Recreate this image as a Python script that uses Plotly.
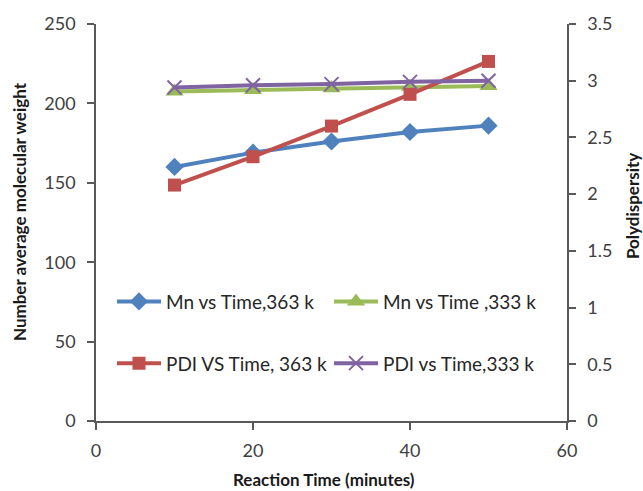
import plotly.graph_objects as go

# ---- data ----
time_min = [10, 20, 30, 40, 50]
mn_363 = [160, 169, 176, 182, 186]
mn_333 = [207.5, 208.5, 209.5, 210.5, 211]
pdi_363 = [2.08, 2.33, 2.60, 2.88, 3.17]
pdi_333 = [2.94, 2.96, 2.97, 2.99, 3.00]

names = ["Mn vs Time,363 k", "Mn vs Time ,333 k", "PDI VS Time, 363 k", "PDI vs Time,333 k"]
x_ticks = [0, 20, 40, 60]
y1_ticks = [0, 50, 100, 150, 200, 250]
y2_ticks = [0, 0.5, 1, 1.5, 2, 2.5, 3, 3.5]
y2_labels = ["0", "0.5", "1", "1.5", "2", "2.5", "3", "3.5"]

BLUE, GREEN, RED, PURPLE = "#4F81BD", "#9BBB59", "#C0504D", "#8064A2"
FONT = "Lato"
AX = "#595959"
TXT = "#404040"

fig = go.Figure()
fig.add_trace(go.Scatter(x=time_min, y=mn_363, name=names[0], mode="lines+markers",
                         line=dict(color=BLUE, width=4),
                         marker=dict(symbol="diamond", size=14, color=BLUE),
                         legend="legend", showlegend=True))
fig.add_trace(go.Scatter(x=time_min, y=mn_333, name=names[1], mode="lines+markers",
                         line=dict(color=GREEN, width=4),
                         marker=dict(symbol="triangle-up", size=16, color=GREEN),
                         legend="legend2", showlegend=True))
fig.add_trace(go.Scatter(x=time_min, y=pdi_363, name=names[2], mode="lines+markers",
                         line=dict(color=RED, width=4),
                         marker=dict(symbol="square", size=13, color=RED),
                         yaxis="y2", legend="legend3", showlegend=True))
fig.add_trace(go.Scatter(x=time_min, y=pdi_333, name=names[3], mode="lines+markers",
                         line=dict(color=PURPLE, width=4),
                         marker=dict(symbol="x-thin", size=14, color=PURPLE,
                                     line=dict(color=PURPLE, width=2)),
                         yaxis="y2", legend="legend4", showlegend=True))

L, R, T, B = 96, 76, 22, 70
W, H = 643, 491
pw, ph = W - L - R, H - T - B


def px(xp):
    return (xp - L) / pw


def py(yp):
    return (H - B - yp) / ph


leg_common = dict(orientation="v", bgcolor="rgba(0,0,0,0)", borderwidth=0,
                  font=dict(family=FONT, size=19, color="#262626"),
                  itemwidth=44, xanchor="left", yanchor="middle")

fig.update_layout(
    width=W, height=H,
    showlegend=True,
    margin=dict(l=L, r=R, t=T, b=B),
    paper_bgcolor="white", plot_bgcolor="white",
    font=dict(family=FONT, color=TXT),
    xaxis=dict(range=[0, 60], tickvals=x_ticks, showgrid=False, zeroline=False,
               showline=True, linecolor=AX, linewidth=1.5, ticks="outside",
               ticklen=7, tickcolor=AX, tickwidth=1.5,
               tickfont=dict(family=FONT, size=18, color=TXT), ticklabelstandoff=6),
    yaxis=dict(range=[0, 250], tickvals=y1_ticks, showgrid=False, zeroline=False,
               showline=True, linecolor=AX, linewidth=1.5, ticks="outside",
               ticklen=7, tickcolor=AX, tickwidth=1.5,
               tickfont=dict(family=FONT, size=18, color=TXT), ticklabelstandoff=8),
    yaxis2=dict(range=[0, 3.5], tickvals=y2_ticks, ticktext=y2_labels,
                overlaying="y", side="right", showgrid=False, zeroline=False,
                showline=True, linecolor=AX, linewidth=1.5, ticks="outside",
                ticklen=7, tickcolor=AX, tickwidth=1.5,
                tickfont=dict(family=FONT, size=18, color=TXT), ticklabelstandoff=8),
    legend=dict(x=px(112), y=py(301), **leg_common),
    legend2=dict(x=px(329), y=py(301), **leg_common),
    legend3=dict(x=px(112), y=py(363), **leg_common),
    legend4=dict(x=px(329), y=py(363), **leg_common),
    annotations=[
        dict(text="<b>Number average molecular weight</b>", xref="paper", yref="paper",
             x=px(19), y=py(211), textangle=-90, showarrow=False,
             xanchor="center", yanchor="middle",
             font=dict(family=FONT, size=17, color="#1a1a1a")),
        dict(text="<b>Polydispersity</b>", xref="paper", yref="paper",
             x=px(632), y=py(205), textangle=-90, showarrow=False,
             xanchor="center", yanchor="middle",
             font=dict(family=FONT, size=17, color="#1a1a1a")),
        dict(text="<b>Reaction Time (minutes)</b>", xref="paper", yref="paper",
             x=px(324), y=py(480), showarrow=False,
             xanchor="center", yanchor="middle",
             font=dict(family=FONT, size=17, color="#1a1a1a")),
    ],
)

fig.write_html("out.html")
